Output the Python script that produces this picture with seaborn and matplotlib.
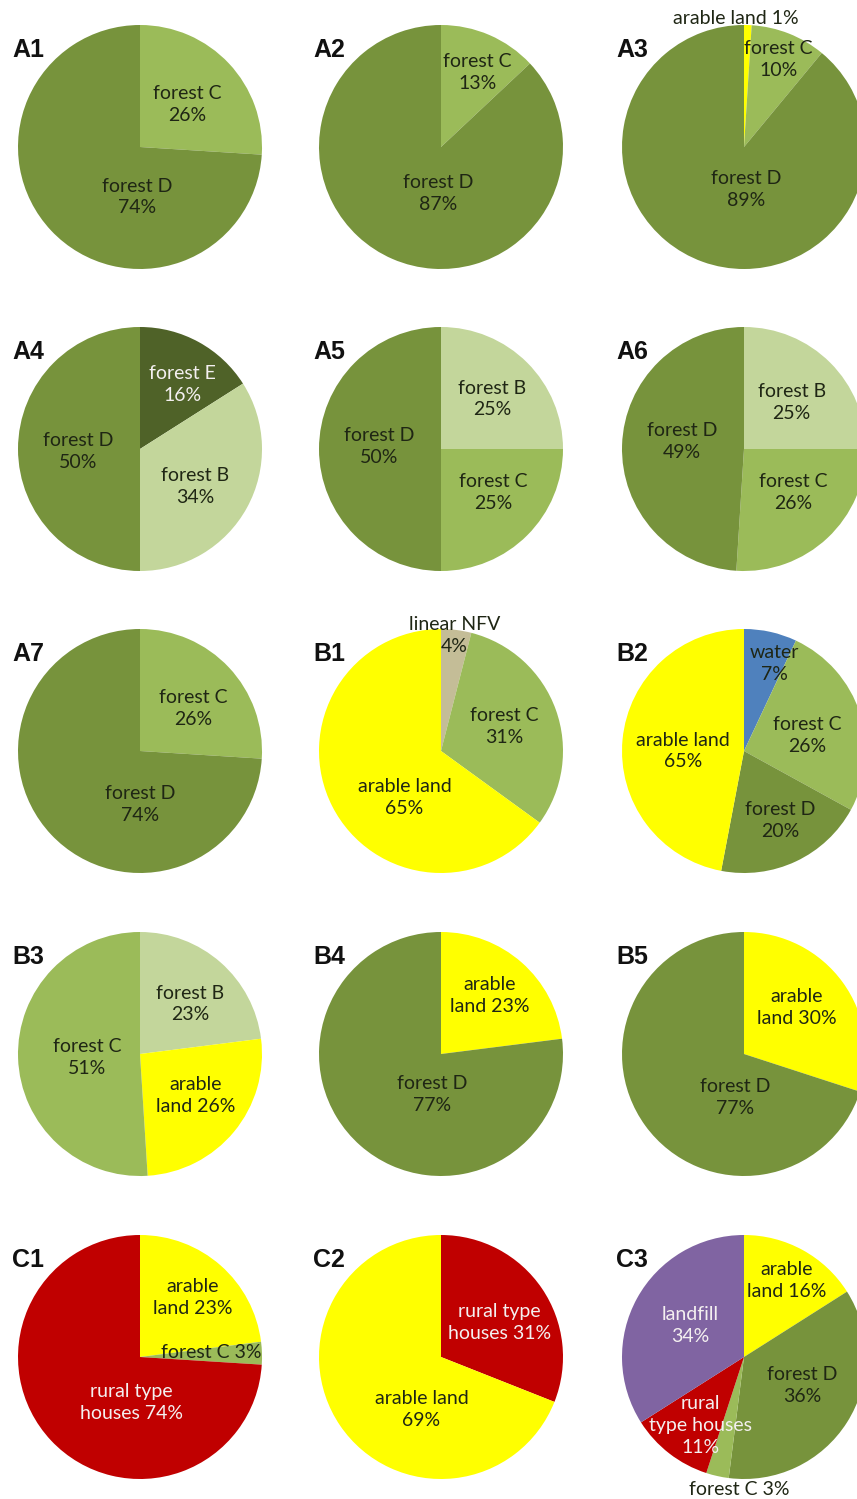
import matplotlib
matplotlib.use("Agg")
import matplotlib.pyplot as plt
import seaborn as sns

# ---- data: wedge sizes, label text as printed ----
a1_cats = ["forest C", "forest D"]
a1_sizes = [26, 74]
a1_labels = ["forest C\n26%", "forest D\n74%"]

a2_cats = ["forest C", "forest D"]
a2_sizes = [13, 87]
a2_labels = ["forest C\n13%", "forest D\n87%"]

a3_cats = ["arable land", "forest C", "forest D"]
a3_sizes = [1, 10, 89]
a3_labels = ["arable land 1%", "forest C\n10%", "forest D\n89%"]

a4_cats = ["forest E", "forest B", "forest D"]
a4_sizes = [16, 34, 50]
a4_labels = ["forest E\n16%", "forest B\n34%", "forest D\n50%"]

a5_cats = ["forest B", "forest C", "forest D"]
a5_sizes = [25, 25, 50]
a5_labels = ["forest B\n25%", "forest C\n25%", "forest D\n50%"]

a6_cats = ["forest B", "forest C", "forest D"]
a6_sizes = [25, 26, 49]
a6_labels = ["forest B\n25%", "forest C\n26%", "forest D\n49%"]

a7_cats = ["forest C", "forest D"]
a7_sizes = [26, 74]
a7_labels = ["forest C\n26%", "forest D\n74%"]

b1_cats = ["linear NFV", "forest C", "arable land"]
b1_sizes = [4, 31, 65]
b1_labels = ["linear NFV\n4%", "forest C\n31%", "arable land\n65%"]

b2_cats = ["water", "forest C", "forest D", "arable land"]
b2_sizes = [7, 26, 20, 47]
b2_labels = ["water\n7%", "forest C\n26%", "forest D\n20%", "arable land\n65%"]

b3_cats = ["forest B", "arable land", "forest C"]
b3_sizes = [23, 26, 51]
b3_labels = ["forest B\n23%", "arable\nland 26%", "forest C\n51%"]

b4_cats = ["arable land", "forest D"]
b4_sizes = [23, 77]
b4_labels = ["arable\nland 23%", "forest D\n77%"]

b5_cats = ["arable land", "forest D"]
b5_sizes = [30, 70]
b5_labels = ["arable\nland 30%", "forest D\n77%"]

c1_cats = ["arable land", "forest C", "rural type houses"]
c1_sizes = [23, 3, 74]
c1_labels = ["arable\nland 23%", "forest C 3%", "rural type\nhouses 74%"]

c2_cats = ["rural type houses", "arable land"]
c2_sizes = [31, 69]
c2_labels = ["rural type\nhouses 31%", "arable land\n69%"]

c3_cats = ["arable land", "forest D", "forest C", "rural type houses", "landfill"]
c3_sizes = [16, 36, 3, 11, 34]
c3_labels = ["arable\nland 16%", "forest D\n36%", "forest C 3%",
             "rural\ntype houses\n11%", "landfill\n34%"]

# ---- styling ----
sns.set_theme(style="white")
plt.rcParams['font.family'] = ['Lato', 'DejaVu Sans']

colors = {
    "forest B": "#C3D69B",
    "forest C": "#9BBB59",
    "forest D": "#77933C",
    "forest E": "#4F6228",
    "arable land": "#FFFF00",
    "rural type houses": "#C00000",
    "landfill": "#8064A2",
    "water": "#4F81BD",
    "linear NFV": "#C4BD97",
}
light_text = {"forest E", "rural type houses", "landfill"}

# panel name, data, centre (px), label positions in pie units
panels = [
    ("A1", a1_cats, a1_sizes, a1_labels, (140, 147), [(0.39, 0.35), (-0.02, -0.41)]),
    ("A2", a2_cats, a2_sizes, a2_labels, (441, 147), [(0.30, 0.61), (-0.02, -0.38)]),
    ("A3", a3_cats, a3_sizes, a3_labels, (744, 147), [(-0.07, 1.05), (0.28, 0.72), (0.02, -0.35)]),
    ("A4", a4_cats, a4_sizes, a4_labels, (140, 449), [(0.35, 0.53), (0.45, -0.31), (-0.51, -0.02)]),
    ("A5", a5_cats, a5_sizes, a5_labels, (441, 449), [(0.42, 0.41), (0.43, -0.36), (-0.51, 0.02)]),
    ("A6", a6_cats, a6_sizes, a6_labels, (744, 449), [(0.39, 0.38), (0.40, -0.36), (-0.51, 0.06)]),
    ("A7", a7_cats, a7_sizes, a7_labels, (140, 751), [(0.44, 0.35), (0.0, -0.44)]),
    ("B1", b1_cats, b1_sizes, b1_labels, (441, 751), [(0.11, 0.95), (0.52, 0.20), (-0.30, -0.38)]),
    ("B2", b2_cats, b2_sizes, b2_labels, (744, 751), [(0.25, 0.72), (0.52, 0.13), (0.30, -0.57), (-0.50, 0.0)]),
    ("B3", b3_cats, b3_sizes, b3_labels, (140, 1054), [(0.41, 0.41), (0.46, -0.34), (-0.43, -0.03)]),
    ("B4", b4_cats, b4_sizes, b4_labels, (441, 1054), [(0.40, 0.48), (-0.07, -0.33)]),
    ("B5", b5_cats, b5_sizes, b5_labels, (744, 1054), [(0.43, 0.38), (-0.07, -0.36)]),
    ("C1", c1_cats, c1_sizes, c1_labels, (140, 1357), [(0.43, 0.49), (0.58, 0.04), (-0.07, -0.37)]),
    ("C2", c2_cats, c2_sizes, c2_labels, (441, 1357), [(0.48, 0.28), (-0.16, -0.43)]),
    ("C3", c3_cats, c3_sizes, c3_labels, (744, 1357),
     [(0.35, 0.63), (0.48, -0.23), (-0.04, -1.09), (-0.36, -0.56), (-0.44, 0.26)]),
]

W, H = 857, 1499
R = 122
fig = plt.figure(figsize=(W / 100, H / 100), dpi=100, facecolor='white')

for name, cats, sizes, labels, (cx, cy), pos in panels:
    ax = fig.add_axes([(cx - R) / W, 1 - (cy + R) / H, 2 * R / W, 2 * R / H])
    ax.pie(sizes, colors=[colors[c] for c in cats], startangle=90,
           counterclock=False, radius=1,
           wedgeprops=dict(linewidth=0))
    ax.set_xlim(-1, 1)
    ax.set_ylim(-1, 1)
    ax.set_aspect('equal')
    ax.axis('off')
    for c, lab, (x, y) in zip(cats, labels, pos):
        col = '#F4F0F0' if c in light_text else '#1F2614'
        ax.text(x, y, lab, ha='center', va='center', fontsize=14,
                color=col, linespacing=1.35, clip_on=False)
    # panel letter
    fig.text((cx - 128) / W, 1 - (cy - 97) / H, name, fontsize=18,
             fontweight='bold', family=['Liberation Sans', 'DejaVu Sans'],
             color='#111111', ha='left', va='center')

fig.savefig('out.png', dpi=100, facecolor='white')
